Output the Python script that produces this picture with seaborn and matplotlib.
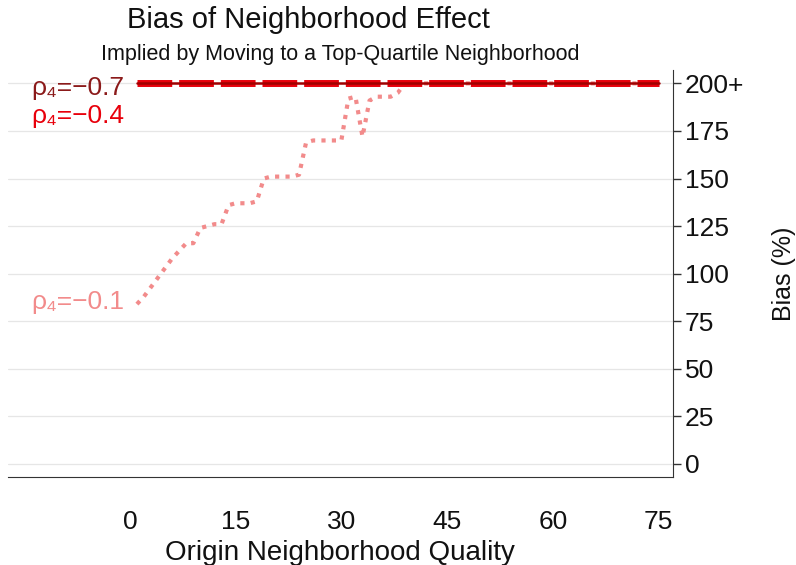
import numpy as np
import pandas as pd
import matplotlib
matplotlib.use("Agg")
import matplotlib.pyplot as plt
import seaborn as sns

# origin neighborhood quality (percentile) and bias (%) per rho_4, capped at 200
quality = list(range(1, 76))
bias_rho_07 = [200] * 75
bias_rho_04 = [200] * 75
bias_rho_01 = [84, 88, 93, 98, 103, 108, 112, 116, 116, 124,
               125, 126, 126, 136, 137, 137, 137, 138, 150, 151,
               151, 151, 151, 152, 169, 170, 170, 170, 170, 170,
               192, 193, 172, 191, 193, 193, 193, 195] + [200] * 37

labels = ["ρ₄=−0.7", "ρ₄=−0.4", "ρ₄=−0.1"]
yticks = [0, 25, 50, 75, 100, 125, 150, 175, 200]
ytick_labels = ["0", "25", "50", "75", "100", "125", "150", "175", "200+"]
xticks = [0, 15, 30, 45, 60, 75]

sns.set_style("white")
plt.rcParams["font.family"] = ["Liberation Sans", "DejaVu Sans"]

fig = plt.figure(figsize=(7.96, 5.65), dpi=100)
ax = fig.add_axes([0.010, 0.156, 0.835, 0.720])

df = pd.DataFrame({"q": quality, "b07": bias_rho_07, "b04": bias_rho_04, "b01": bias_rho_01})

sns.lineplot(data=df, x="q", y="b04", ax=ax, color="#e8000b", linewidth=5,
             linestyle=(0, (5, 1)), zorder=3)
sns.lineplot(data=df, x="q", y="b07", ax=ax, color="#a00000", linewidth=1.8, zorder=4)
sns.lineplot(data=df, x="q", y="b01", ax=ax, color="#f28b8b", linewidth=3,
             linestyle=(0, (1, 1.5)), zorder=2)

# inline labels
ax.text(-0.8, 197.5, labels[0], color="#8b1a1a", fontsize=19, ha="right", va="center")
ax.text(-0.8, 183, labels[1], color="#e8000b", fontsize=19, ha="right", va="center")
ax.text(-0.8, 85, labels[2], color="#f28b8b", fontsize=19, ha="right", va="center")

ax.set_xlim(-17.3, 77.0)
ax.set_ylim(-6.8, 207)
ax.set_xticks(xticks)
ax.set_yticks(yticks)
ax.set_yticklabels(ytick_labels)
ax.yaxis.tick_right()
ax.yaxis.set_label_position("right")
ax.tick_params(axis="x", labelsize=19, length=8, width=1, color="#333333", direction="out",
               pad=16, labelcolor="#111111")
ax.tick_params(axis="y", labelsize=19, length=6, width=1, color="#333333", direction="out",
               pad=3, right=True, left=False, labelcolor="#111111")
for y in yticks:
    ax.axhline(y, color="#e6e6e6", linewidth=0.9, zorder=0)

ax.spines["left"].set_visible(False)
ax.spines["top"].set_visible(False)
ax.spines["right"].set_color("#333333")
ax.spines["bottom"].set_color("#333333")

ax.set_xlabel("Origin Neighborhood Quality", fontsize=20, labelpad=4, color="#111111")
ax.set_ylabel("Bias (%)", fontsize=18, labelpad=20, color="#111111")

fig.text(0.388, 0.965, "Bias of Neighborhood Effect", fontsize=21, ha="center", va="center",
         color="#111111")
fig.text(0.428, 0.903, "Implied by Moving to a Top-Quartile Neighborhood", fontsize=15.5,
         ha="center", va="center", color="#111111")

fig.savefig("out.png", dpi=100)
